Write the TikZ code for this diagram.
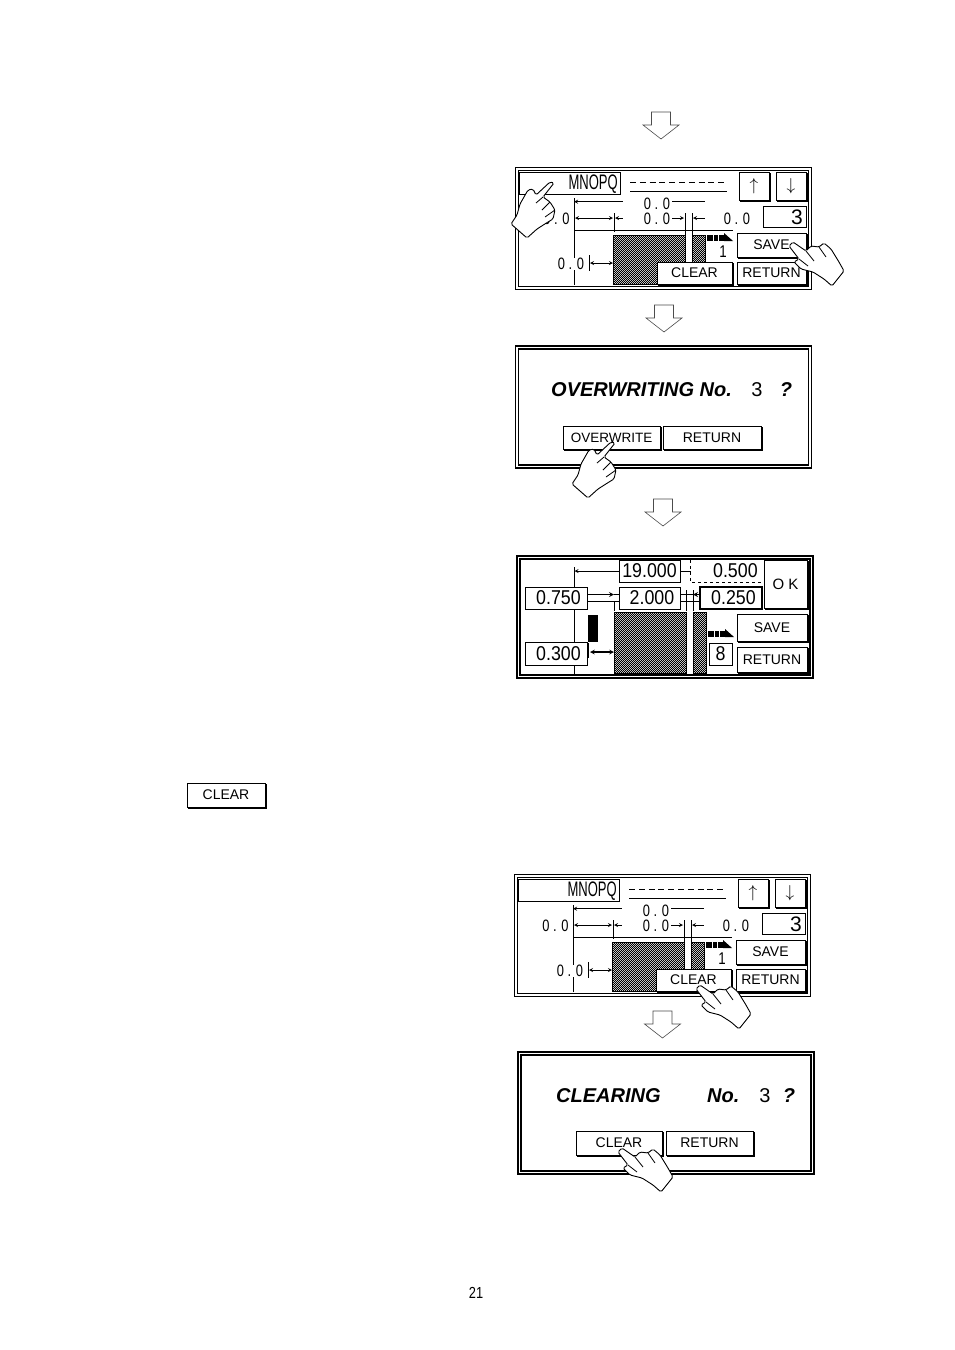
\documentclass[tikz,border=0pt]{standalone}
\usepackage{fontspec}
\setmainfont{Liberation Sans}
\usepackage{tikz}
\usetikzlibrary{calc}
\usetikzlibrary{patterns}

\newcommand{\nar}[1]{\scalebox{.78}[1]{#1}}
\newcommand{\val}[1]{\scalebox{.89}[1]{#1}}
\newcommand{\tall}[1]{\scalebox{.62}[1]{#1}}

\pgfdeclarepatternformonly{screendots}{\pgfqpoint{-.5pt}{-.5pt}}{\pgfqpoint{2.5pt}{2.5pt}}{\pgfqpoint{2pt}{2pt}}{
  \pgfpathrectangle{\pgfqpoint{0pt}{0pt}}{\pgfqpoint{1pt}{1pt}}
  \pgfpathrectangle{\pgfqpoint{1pt}{1pt}}{\pgfqpoint{1pt}{1pt}}
  \pgfusepath{fill}
}

\tikzset{
  line/.style={line width=.8pt},
  dim/.style={line width=.8pt,>=stealth},
  btn/.style={draw,fill=white,line width=.8pt,inner sep=0pt,font=\fontsize{14}{14}\selectfont,
    preaction={draw,fill=black,line width=.8pt,transform canvas={xshift=1.3pt,yshift=-1.3pt}}},
  box/.style={draw,fill=white,line width=.8pt,inner sep=0pt,font=\fontsize{20}{20}\selectfont},
  num/.style={fill=white,inner sep=0pt,font=\fontsize{16.5}{16.5}\selectfont},
  bigtext/.style={inner sep=0pt,anchor=west,font=\fontsize{20}{20}\selectfont\bfseries\itshape},
  hatch/.style={draw,line width=.6pt,pattern=screendots},
  downarrow/.pic={
    \draw[line width=.6pt,black!70,fill=white] (-9.5,0) -- (9.5,0) -- (9.5,13) -- (18,13) -- (0,27) -- (-18,13) -- (-9.5,13) -- cycle;
  },
  frame/.pic={
    \draw[line width=1.6pt] (0,0) rectangle (296,122);
    \draw[line width=1.4pt] (3,3) rectangle (293,119);
  },
  speedicon/.pic={
    \fill (0,1.5) rectangle (6,8);
    \fill (7,1.5) rectangle (11,8);
    \fill (12,1.5) rectangle (17,8);
    \fill (17,0) -- (26,8) -- (17,8) -- cycle;
  },
  handa/.pic={
    \draw[line width=.9pt,fill=white,rounded corners=1.5pt] (0,0) -- (-11,14) -- (-4,19) -- (1,27) -- (-1,36) -- (-6,39) -- (-17,46) -- (-27,55) -- (-43,41) -- (-37,32) -- (-34,21) -- (-26,7) -- (-21,6) -- (-18,12) -- (-4,-1) -- cycle;
    \draw[line width=.8pt] (-11,14) -- (-18,20) (-4,19) -- (-12,27) (1,27) -- (-9,34);
  },
  handb/.pic={
    \draw[line width=.9pt,fill=white,rounded corners=1.5pt] (0,0) -- (2,-2) -- (15,7) -- (20,2) -- (28,3) -- (33,-1) -- (40,5) -- (48,18) -- (53,27) -- (41,42) -- (33,35) -- (22,28) -- (10,25) -- (3,18) -- (8,15) -- (-2,2) -- cycle;
    \draw[line width=.8pt] (15,7) -- (23,17) (28,3) -- (35,13) (8,15) -- (17,22);
  },
  setscreen/.pic={
    \pic at (515.5,167.5) {frame};
    \node (name) at (570,183) [draw,fill=white,line width=.8pt,minimum width=101pt,minimum height=22pt,inner sep=0pt] {};
    \node (label) at (618,184) [anchor=east,inner sep=0pt,font=\fontsize{21}{21}\selectfont] {\tall{MNOPQ}};
    \draw[line width=.9pt,dash pattern=on 6pt off 3.8pt] (630,182) -- (727,182);
    \draw[line] (630,191) -- (727,191);
    \node (up) at (754,186) [btn,minimum width=30pt,minimum height=28pt,font=\fontsize{17}{17}\selectfont] {$\uparrow$};
    \node (down) at (791,186) [btn,minimum width=30pt,minimum height=28pt,font=\fontsize{17}{17}\selectfont] {$\downarrow$};
    \node (no) at (784.5,216.5) [draw,fill=white,line width=.8pt,minimum width=43pt,minimum height=21pt,inner sep=0pt] {};
    \node (nonum) at (803,217) [anchor=east,inner sep=0pt,font=\fontsize{21}{21}\selectfont] {3};
    \coordinate (vtop) at (574,198);
    \coordinate (vbot) at (574,285);
    \draw[line] (vtop) -- (vbot);
    \draw[line] (574,230.7) -- (733,230.7);
    \draw[line] (614,213) -- (614,232);
    \draw[line] (685,213) -- (685,262);
    \draw[line] (692,213) -- (692,262);
    \draw[hatch] (613,235) rectangle (685,284);
    \draw[hatch] (692,235) rectangle (705,284);
    \node (n1) at (657,203.5) [num] {\nar{0 . 0}};
    \draw[dim,<-] (574,201.7) -- (623,201.7);
    \draw[line] (672,201.7) -- (705,201.7);
    \node (n2) at (657,219) [num] {\nar{0 . 0}};
    \node (n3) at (737,219) [num] {\nar{0 . 0}};
    \node (n4) at (556.5,219) [num] {\nar{0 . 0}};
    \draw[dim,<->] (575,218) -- (613,218);
    \draw[dim,<-] (615,218) -- (623,218);
    \draw[dim,->] (672,218) -- (684,218);
    \draw[dim,<-] (693,218) -- (705,218);
    \node (n5) at (571,264) [num] {\nar{0 . 0}};
    \draw[line] (589,255) -- (589,271);
    \draw[dim,<->] (590,263) -- (613,263);
    \pic at (707,233) {speedicon};
    \node (one) at (723,252) [inner sep=0pt,font=\fontsize{17}{17}\selectfont] {\nar{1}};
    \node (save) at (771.5,245) [btn,minimum width=69pt,minimum height=24pt] {SAVE};
    \node (ret) at (771.5,273) [btn,minimum width=69pt,minimum height=22pt] {RETURN};
    \node (clr) at (694.5,273) [btn,minimum width=75pt,minimum height=22pt] {CLEAR};
  }
}

\begin{document}
\begin{tikzpicture}[x=1pt,y=-1pt]
\useasboundingbox (0,0) rectangle (954,1350);
\fill[white] (0,0) rectangle (954,1350);

\pic at (661,112) {downarrow};
\pic (a) at (0,0) {setscreen};
\pic at (664,305) {downarrow};

\pic at (515.5,346) {frame};
\node (over) at (551,390) [bigtext] {OVERWRITING No.};
\node (overno) at (757,390) [inner sep=0pt,font=\fontsize{20}{20}\selectfont] {3};
\node (overq) at (786,390) [inner sep=0pt,font=\fontsize{20}{20}\selectfont\bfseries\itshape] {?};
\node (overbtn) at (611.5,437.5) [btn,minimum width=97pt,minimum height=23pt,font=\fontsize{13.5}{14}\selectfont] {OVERWRITE};
\node (overret) at (712,437.5) [btn,minimum width=98pt,minimum height=23pt] {RETURN};
\pic at (663,499) {downarrow};

\pic at (517,556) {frame};
\draw[line] (574,567) -- (574,674);
\node (v19) at (649.5,571) [box,minimum width=61pt,minimum height=22pt] {\val{19.000}};
\node (v05) at (726.5,571) [inner sep=0pt,minimum width=71pt,minimum height=22pt,font=\fontsize{20}{20}\selectfont] {\val{\quad 0.500}};
\draw[line,dashed] (v05.north west) -- (v05.south west) -- (v05.south east);
\node (okb) at (785.5,584) [btn,minimum width=43pt,minimum height=48pt,font=\fontsize{15}{15}\selectfont] {O K};
\node (v2) at (649.5,598) [box,minimum width=61pt,minimum height=22pt] {\val{\ 2.000}};
\node (v025) at (731,598) [box,line width=1.1pt,minimum width=62pt,minimum height=22pt] {\val{\ 0.250}};
\node (v075) at (556,598) [box,minimum width=62pt,minimum height=22pt] {\val{\ 0.750}};
\node (v03) at (556,653.5) [box,minimum width=62pt,minimum height=23pt] {\val{\ 0.300}};
\draw[dim,->] (v19.west) -- (574.5,571);
\draw[line] (v19.east) -- (v05.west);
\coordinate (tipa) at (614,594.5);
\coordinate (tipb) at (693,594.5);
\draw[line width=1.2pt,>=stealth,->] ([yshift=3.5pt]v075.east) -- (tipa);
\draw[line width=1.2pt] (tipa) -- ([yshift=3.5pt]v2.west);
\draw[line width=1.2pt] ([yshift=-3.5pt]v075.east) -- ([yshift=-3.5pt]v2.west);
\draw[line width=1.2pt] ([yshift=3.5pt]v2.east) -- (tipb);
\draw[line width=1.2pt,>=stealth,<-] (tipb) -- ([yshift=3.5pt]v025.west);
\draw[line width=1.2pt] ([yshift=-3.5pt]v2.east) -- ([yshift=-3.5pt]v025.west);
\draw[line] (614,602) -- (614,611);
\draw[line] (686,590) -- (686,611);
\draw[line] (693,590) -- (693,611);
\draw[hatch] (614,612) rectangle (686,673);
\draw[hatch] (693,612) rectangle (706,673);
\fill (588,615) rectangle (598,642);
\draw[line width=1.2pt] (588.5,643) -- (588.5,658);
\draw[dim,line width=1.1pt,<->] (590,652) -- (614,652);
\pic at (708,629) {speedicon};
\node (v8) at (720.5,654) [box,minimum width=23pt,minimum height=22pt] {\val{8}};
\node (save3) at (772,627.5) [btn,minimum width=70pt,minimum height=27pt] {SAVE};
\node (ret3) at (772,659.5) [btn,minimum width=70pt,minimum height=25pt] {RETURN};

\node (clearbtn) at (226,795) [btn,minimum width=78pt,minimum height=24pt] {CLEAR};

\pic (b) at (-1,707) {setscreen};
\pic at (662.5,1011) {downarrow};

\pic at (518,1052) {frame};
\node (cl) at (556,1096) [bigtext] {CLEARING};
\node (clno) at (707,1096) [bigtext] {No.};
\node (clnum) at (765,1096) [inner sep=0pt,font=\fontsize{20}{20}\selectfont] {3};
\node (clq) at (789,1096) [inner sep=0pt,font=\fontsize{20}{20}\selectfont\bfseries\itshape] {?};
\node (clbtn) at (619,1143) [btn,minimum width=86pt,minimum height=24pt] {CLEAR};
\node (clret) at (709.5,1143) [btn,minimum width=87pt,minimum height=24pt] {RETURN};

\pic at (554,183) {handa};
\pic at (791,244) {handb};
\pic at (615,443) {handa};
\pic at (698,987) {handb};
\pic at (620,1150) {handb};

\node (page) at (476,1293) [inner sep=0pt,font=\fontsize{16}{16}\selectfont] {\scalebox{.8}[1]{21}};
\end{tikzpicture}
\end{document}
